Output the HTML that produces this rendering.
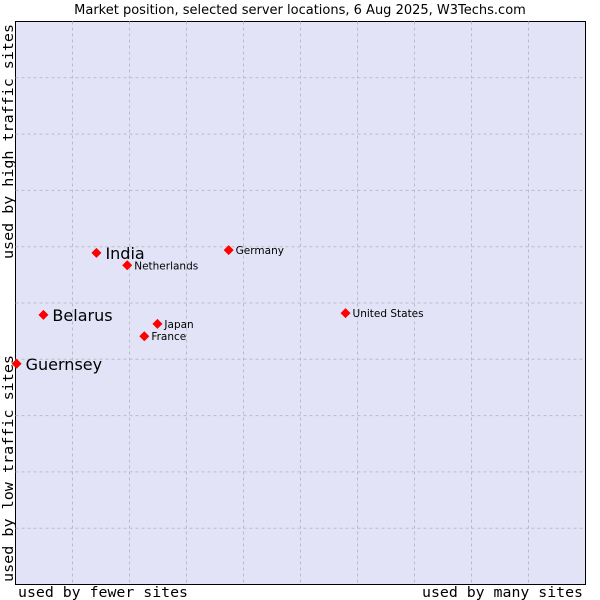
<!DOCTYPE html>
<html><head><meta charset="utf-8"><style>
body{margin:0;background:#fff;}
svg{display:block;font-family:"DejaVu Sans","Liberation Sans",sans-serif;}
</style></head><body>
<svg width="600" height="600" id="chart">
<text x="300" y="14" font-size="13" text-anchor="middle" fill="#000">Market position, selected server locations, 6 Aug 2025, W3Techs.com</text>
<rect x="15.5" y="21.5" width="570" height="563" fill="#e3e3f8" stroke="#000" stroke-width="1"/>
<g id="grid"></g>
<g id="points"></g>
<text x="18" y="597" textLength="170" lengthAdjust="spacingAndGlyphs" font-family="DejaVu Sans Mono,Liberation Mono,monospace" font-size="14.5">used by fewer sites</text>
<text x="422" y="597" textLength="161" lengthAdjust="spacingAndGlyphs" font-family="DejaVu Sans Mono,Liberation Mono,monospace" font-size="14.5">used by many sites</text>
<text transform="translate(13,582) rotate(-90)" textLength="227" lengthAdjust="spacingAndGlyphs" font-family="DejaVu Sans Mono,Liberation Mono,monospace" font-size="14.5">used by low traffic sites</text>
<text transform="translate(13,259) rotate(-90)" textLength="235" lengthAdjust="spacingAndGlyphs" font-family="DejaVu Sans Mono,Liberation Mono,monospace" font-size="14.5">used by high traffic sites</text>
</svg>
<script>
const names=["India","Netherlands","Germany","Belarus","Japan","France","United States","Guernsey"];
const xVals=[14.2,19.6,37.4,4.9,24.9,22.6,57.9,0.2];
const yVals=[58.9,56.7,59.4,47.9,46.3,44.1,48.2,39.2];
const bigLabels=["India","Belarus","Guernsey"];
const L=15.5,T=21.5,W=570,H=563;
const sx=v=>L+v/100*W, sy=v=>T+H-v/100*H;
const ns="http://www.w3.org/2000/svg";
const g=document.getElementById('grid');
for(let i=1;i<10;i++){
  const v=document.createElementNS(ns,'line');
  
  
  v.setAttribute('x1',sx(i*10));v.setAttribute('x2',sx(i*10));v.setAttribute('y1',T);v.setAttribute('y2',T+H);
  v.setAttribute('stroke','#bcbcbc');v.setAttribute('stroke-dasharray','3,3');g.appendChild(v);
  const h=document.createElementNS(ns,'line');
  
  
  h.setAttribute('y1',sy(i*10));h.setAttribute('y2',sy(i*10));h.setAttribute('x1',L);h.setAttribute('x2',L+W);
  h.setAttribute('stroke','#bcbcbc');h.setAttribute('stroke-dasharray','3,3');g.appendChild(h);
}
const p=document.getElementById('points');
names.forEach((n,i)=>{
  const x=sx(xVals[i]),y=sy(yVals[i]);
  const d=document.createElementNS(ns,'path');
  
  
  d.setAttribute('d',`M${x-5},${y} L${x},${y-5} L${x+5},${y} L${x},${y+5} Z`);
  d.setAttribute('fill','#f00');p.appendChild(d);
  const big=bigLabels.includes(n);
  const t=document.createElementNS(ns,'text');
  
  
  t.setAttribute('x',x+(big?9:7));t.setAttribute('y',y+(big?6:4));
  t.setAttribute('font-size',big?16:10.5);t.setAttribute('fill','#000');
  t.textContent=n;p.appendChild(t);
});
</script>
</body></html>
